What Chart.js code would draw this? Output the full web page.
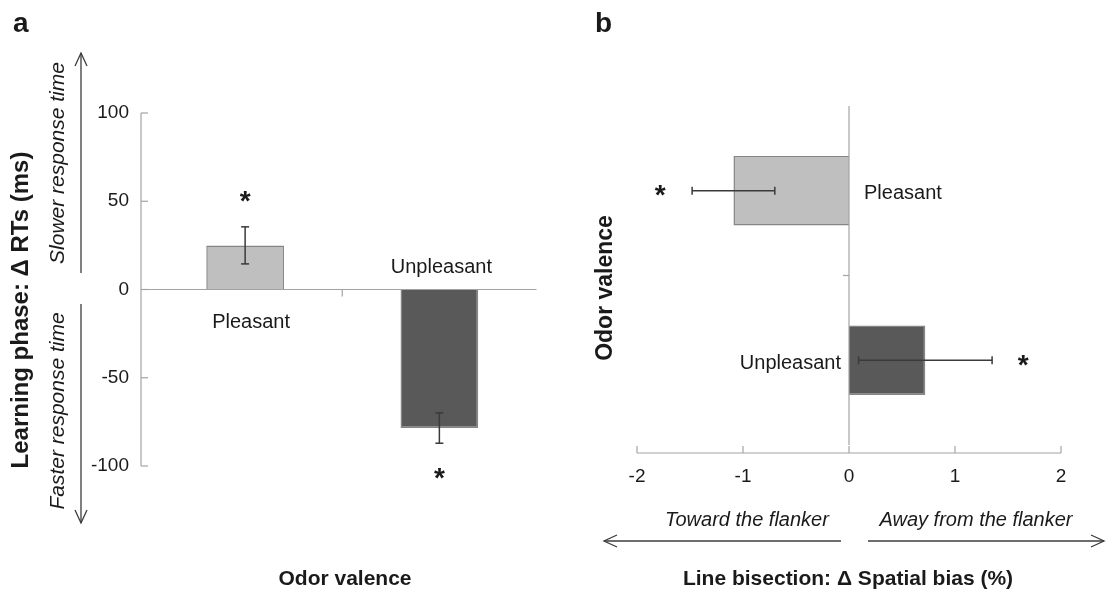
<!DOCTYPE html>
<html>
<head>
<meta charset="utf-8">
<script src="https://cdn.jsdelivr.net/npm/chart.js@4.4.1/dist/chart.umd.min.js"></script>
<style>
  html, body { margin: 0; padding: 0; background: #fff; }
  #wrap { position: relative; width: 1110px; height: 594px; overflow: hidden; }
  canvas { position: absolute; top: 0; }
  #rtChart { left: 0; }
  #biasChart { left: 555px; }
</style>
</head>
<body>
<div id="wrap">
  <canvas id="rtChart" width="555" height="594"></canvas>
  <canvas id="biasChart" width="555" height="594"></canvas>
</div>
<script>
const valence = ['Pleasant', 'Unpleasant'];
const rtMeans = [25, -78.5];      // Δ RTs (ms)
const rtErrors = [10.5, 8.6];
const rtRange = [-100, 100];
const biasMeans = [-1.09, 0.72];  // Δ spatial bias (%)
const biasErrors = [0.39, 0.63];
const biasRange = [-2, 2];
const barColors = ['#bfbfbf', '#595959'];

const FONT = '"Liberation Sans", Arial, sans-serif';
const TEXT = '#1a1a1a';
const AXIS = '#a3a3a3';
const OFF = 555; // left edge of the right canvas

function line(ctx, x1, y1, x2, y2) {
    ctx.beginPath();
    ctx.moveTo(x1, y1);
    ctx.lineTo(x2, y2);
    ctx.stroke();
}

function label(ctx, str, x, y, font, align = 'center', baseline = 'middle', rot = 0) {
    ctx.save();
    ctx.translate(x, y);
    if (rot) ctx.rotate(rot);
    ctx.font = font;
    ctx.fillStyle = TEXT;
    ctx.textAlign = align;
    ctx.textBaseline = baseline;
    ctx.fillText(str, 0, 0);
    ctx.restore();
}

// open arrow head at (x2, y2)
function arrow(ctx, x1, y1, x2, y2) {
    ctx.save();
    ctx.strokeStyle = '#3c3c3c';
    ctx.lineWidth = 1.3;
    line(ctx, x1, y1, x2, y2);
    const ang = Math.atan2(y2 - y1, x2 - x1);
    const len = 13, half = 6;
    const bx = x2 - len * Math.cos(ang), by = y2 - len * Math.sin(ang);
    const nx = -Math.sin(ang) * half, ny = Math.cos(ang) * half;
    ctx.beginPath();
    ctx.moveTo(bx + nx, by + ny);
    ctx.lineTo(x2, y2);
    ctx.lineTo(bx - nx, by - ny);
    ctx.stroke();
    ctx.restore();
}

// asterisk centred on (x, y)
function star(ctx, x, y) {
    ctx.save();
    ctx.font = 'bold 28px ' + FONT;
    ctx.fillStyle = TEXT;
    ctx.textAlign = 'center';
    ctx.textBaseline = 'alphabetic';
    const m = ctx.measureText('*');
    const asc = m.actualBoundingBoxAscent, desc = m.actualBoundingBoxDescent;
    ctx.fillText('*', x, y + (asc - desc) / 2);
    ctx.restore();
}

const rtDecor = {
    id: 'rtDecor',
    afterDatasetsDraw(chart) {
        const { ctx, chartArea: a, scales: { x, y } } = chart;
        const y0 = y.getPixelForValue(0);
        ctx.save();
        ctx.strokeStyle = AXIS;
        ctx.lineWidth = 1.2;
        const ax = a.left - 7;
        line(ctx, ax, y.getPixelForValue(rtRange[1]), ax, y.getPixelForValue(rtRange[0]));
        y.ticks.forEach(t => {
            const py = y.getPixelForValue(t.value);
            line(ctx, ax, py, a.left, py);
        });
        line(ctx, a.left, y0, a.right, y0);
        const mid = (x.getPixelForValue(0) + x.getPixelForValue(1)) / 2;
        line(ctx, mid, y0, mid, y0 + 7);

        ctx.strokeStyle = '#3a3a3a';
        ctx.lineWidth = 1.5;
        rtMeans.forEach((m, i) => {
            const px = x.getPixelForValue(i);
            const top = y.getPixelForValue(m + rtErrors[i]);
            const bot = y.getPixelForValue(m - rtErrors[i]);
            line(ctx, px, top, px, bot);
            line(ctx, px - 4, top, px + 4, top);
            line(ctx, px - 4, bot, px + 4, bot);
            star(ctx, px, m > 0 ? top - 30 : bot + 30);
            // category name sits on the other side of zero
            label(ctx, valence[i], px + (m > 0 ? 6 : 2), m > 0 ? y0 + 38 : y0 - 17,
                '20px ' + FONT, 'center', 'alphabetic');
        });
        ctx.restore();
    },
    afterDraw(chart) {
        const ctx = chart.ctx;
        label(ctx, 'a', 13, 32, 'bold 28px ' + FONT, 'left', 'alphabetic');
        label(ctx, 'Learning phase: \u0394 RTs (ms)', 21, 310, 'bold 24px ' + FONT, 'center', 'middle', -Math.PI / 2);
        label(ctx, 'Slower response time', 58, 163, 'italic 21px ' + FONT, 'center', 'middle', -Math.PI / 2);
        label(ctx, 'Faster response time', 58, 411, 'italic 21px ' + FONT, 'center', 'middle', -Math.PI / 2);
        arrow(ctx, 81, 273, 81, 53);
        arrow(ctx, 81, 304, 81, 523);
        label(ctx, 'Odor valence', 345, 579, 'bold 21px ' + FONT);
    }
};

const biasDecor = {
    id: 'biasDecor',
    afterDatasetsDraw(chart) {
        const { ctx, chartArea: a, scales: { x, y } } = chart;
        const x0 = x.getPixelForValue(0);
        ctx.save();
        ctx.strokeStyle = AXIS;
        ctx.lineWidth = 1.2;
        line(ctx, x0, a.top, x0, a.bottom);
        const mid = (y.getPixelForValue(0) + y.getPixelForValue(1)) / 2;
        line(ctx, x0 - 6, mid, x0, mid);
        const ay = a.bottom + 8;
        line(ctx, x.getPixelForValue(biasRange[0]), ay, x.getPixelForValue(biasRange[1]), ay);
        x.ticks.forEach(t => {
            const px = x.getPixelForValue(t.value);
            line(ctx, px, ay, px, ay - 7);
        });

        ctx.strokeStyle = '#3a3a3a';
        ctx.lineWidth = 1.5;
        biasMeans.forEach((m, i) => {
            const py = y.getPixelForValue(i);
            const lo = x.getPixelForValue(m - biasErrors[i]);
            const hi = x.getPixelForValue(m + biasErrors[i]);
            line(ctx, lo, py, hi, py);
            line(ctx, lo, py - 4, lo, py + 4);
            line(ctx, hi, py - 4, hi, py + 4);
            star(ctx, m < 0 ? lo - 32 : hi + 31, py);
            if (m < 0) {
                label(ctx, valence[i], x0 + 15, py + 8, '20px ' + FONT, 'left', 'alphabetic');
            } else {
                label(ctx, valence[i], x0 - 8, py + 9, '20px ' + FONT, 'right', 'alphabetic');
            }
        });
        ctx.restore();
    },
    afterDraw(chart) {
        const ctx = chart.ctx;
        label(ctx, 'b', 595 - OFF, 32, 'bold 28px ' + FONT, 'left', 'alphabetic');
        label(ctx, 'Odor valence', 606 - OFF, 288, 'bold 23px ' + FONT, 'center', 'middle', -Math.PI / 2);
        label(ctx, 'Toward the flanker', 747 - OFF, 520, 'italic 20px ' + FONT);
        label(ctx, 'Away from the flanker', 976 - OFF, 520, 'italic 20px ' + FONT);
        arrow(ctx, 841 - OFF, 541, 604 - OFF, 541);
        arrow(ctx, 868 - OFF, 541, 1104 - OFF, 541);
        label(ctx, 'Line bisection: \u0394 Spatial bias (%)', 848 - OFF, 579, 'bold 21px ' + FONT);
    }
};

Chart.defaults.font.family = FONT;
Chart.defaults.color = TEXT;

new Chart(document.getElementById('rtChart'), {
    type: 'bar',
    data: {
        labels: valence,
        datasets: [{
            data: rtMeans,
            backgroundColor: barColors,
            borderColor: '#858585',
            borderWidth: 1.5,
            categoryPercentage: 1,
            barPercentage: 0.4
        }]
    },
    options: {
        responsive: false,
        animation: false,
        devicePixelRatio: 1,
        layout: { padding: { left: 0, top: 113, right: 18.5, bottom: 128 } },
        plugins: { legend: { display: false }, tooltip: { enabled: false } },
        scales: {
            x: { display: false },
            y: {
                min: rtRange[0],
                max: rtRange[1],
                grid: { display: false, drawTicks: false },
                border: { display: false },
                ticks: { stepSize: 50, padding: 19, color: TEXT, font: { size: 19 } },
                afterFit(scale) { scale.width = 148; }
            }
        }
    },
    plugins: [rtDecor]
});

new Chart(document.getElementById('biasChart'), {
    type: 'bar',
    data: {
        labels: valence,
        datasets: [{
            data: biasMeans,
            backgroundColor: barColors,
            borderColor: '#858585',
            borderWidth: 1.5,
            categoryPercentage: 1,
            barPercentage: 0.41
        }]
    },
    options: {
        indexAxis: 'y',
        responsive: false,
        animation: false,
        devicePixelRatio: 1,
        layout: { padding: { left: 82, top: 106, right: 49, bottom: 0 } },
        plugins: { legend: { display: false }, tooltip: { enabled: false } },
        scales: {
            y: { display: false },
            x: {
                min: biasRange[0],
                max: biasRange[1],
                grid: { display: false, drawTicks: false },
                border: { display: false },
                ticks: { stepSize: 1, padding: 20, color: TEXT, font: { size: 19 } },
                afterFit(scale) { scale.height = 149; }
            }
        }
    },
    plugins: [biasDecor]
});
</script>
</body>
</html>
